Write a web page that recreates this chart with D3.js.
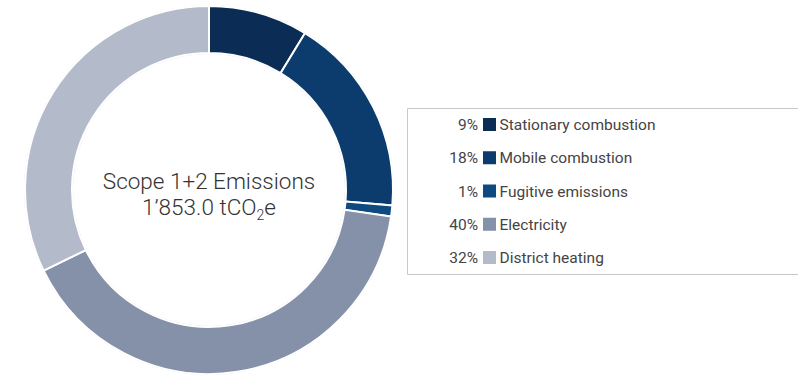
<!DOCTYPE html>
<meta charset="utf-8">
<head>
    <script src="https://d3js.org/d3.v7.min.js"></script>
    <style>
        body { margin: 0; background: #fff; font-family: Roboto, "Noto Sans", sans-serif; }
    </style>
</head>
<body>
<div id="my_dataviz"></div>
</body>

<script>

    // data (tCO2e)
    var categories = ["Stationary combustion", "Mobile combustion", "Fugitive emissions", "Electricity", "District heating"];
    var values = [162, 326, 18, 750, 597];
    var colors = ["#0b2d55", "#0c3c6e", "#0e4a80", "#8590a9", "#b3bac9"];
    var totalLabel = "1\u2019853.0";

    var width = 798, height = 376;
    var cx = 209, cy = 190, outerR = 184, innerR = 137;

    var svg = d3.select("#my_dataviz")
        .append("svg")
        .attr("width", width)
        .attr("height", height);

    var total = d3.sum(values);
    var data = categories.map(function(c, i) { return {name: c, value: values[i], color: colors[i]}; });

    var pie = d3.pie()
        .sort(null)
        .value(function(d) { return d.value; });

    var arc = d3.arc()
        .innerRadius(innerR)
        .outerRadius(outerR);

    var ring = svg.append("g")
        .attr("transform", "translate(" + cx + "," + cy + ")");

    // faint outline round the ring
    ring.append("circle").attr("r", outerR + 0.5).attr("fill", "none").attr("stroke", "#e2e2e2").attr("stroke-width", 1);
    ring.append("circle").attr("r", innerR - 0.5).attr("fill", "none").attr("stroke", "#e2e2e2").attr("stroke-width", 1);

    ring.selectAll("path")
        .data(pie(data))
        .enter().append("path")
        .attr("d", arc)
        .attr("fill", function(d) { return d.data.color; })
        .attr("stroke", "#fff")
        .attr("stroke-width", 2);

    // centre label
    var centre = svg.append("text")
        .attr("x", cx)
        .attr("text-anchor", "middle")
        .style("font-size", "22.5px")
        .style("font-weight", 300)
        .style("fill", "#333");
    centre.append("tspan").attr("x", cx).attr("y", cy - 1).text("Scope 1+2 Emissions");
    var l2 = centre.append("tspan").attr("x", cx).attr("y", cy + 25);
    l2.append("tspan").text(totalLabel + " tCO");
    l2.append("tspan").attr("dy", 5).style("font-size", "14px").text("2");
    l2.append("tspan").attr("dy", -5).text("e");

    // legend box (open on the right)
    var box = {x: 407.5, y: 108.5, w: 391, h: 166};
    svg.append("path")
        .attr("d", "M" + (box.x + box.w) + "," + box.y + "H" + box.x + "V" + (box.y + box.h) + "H" + (box.x + box.w))
        .attr("fill", "none")
        .attr("stroke", "#c8c8c8")
        .attr("stroke-width", 1);

    var rowY = d3.scalePoint()
        .domain(categories)
        .range([124.5, 257.5]);

    var legend = svg.append("g").attr("class", "legend");
    var rows = legend.selectAll("g")
        .data(data)
        .enter().append("g")
        .attr("transform", function(d) { return "translate(0," + rowY(d.name) + ")"; });

    rows.append("text")
        .attr("x", 478)
        .attr("y", 5.5)
        .attr("text-anchor", "end")
        .style("font-size", "15.5px")
        .style("fill", "#444")
        .text(function(d) { return Math.round(d.value / total * 100) + "%"; });

    rows.append("rect")
        .attr("x", 483)
        .attr("y", -6.5)
        .attr("width", 13)
        .attr("height", 13)
        .attr("fill", function(d) { return d.color; });

    rows.append("text")
        .attr("x", 499.5)
        .attr("y", 5.5)
        .style("font-size", "15.5px")
        .style("fill", "#444")
        .text(function(d) { return d.name; });

</script>
